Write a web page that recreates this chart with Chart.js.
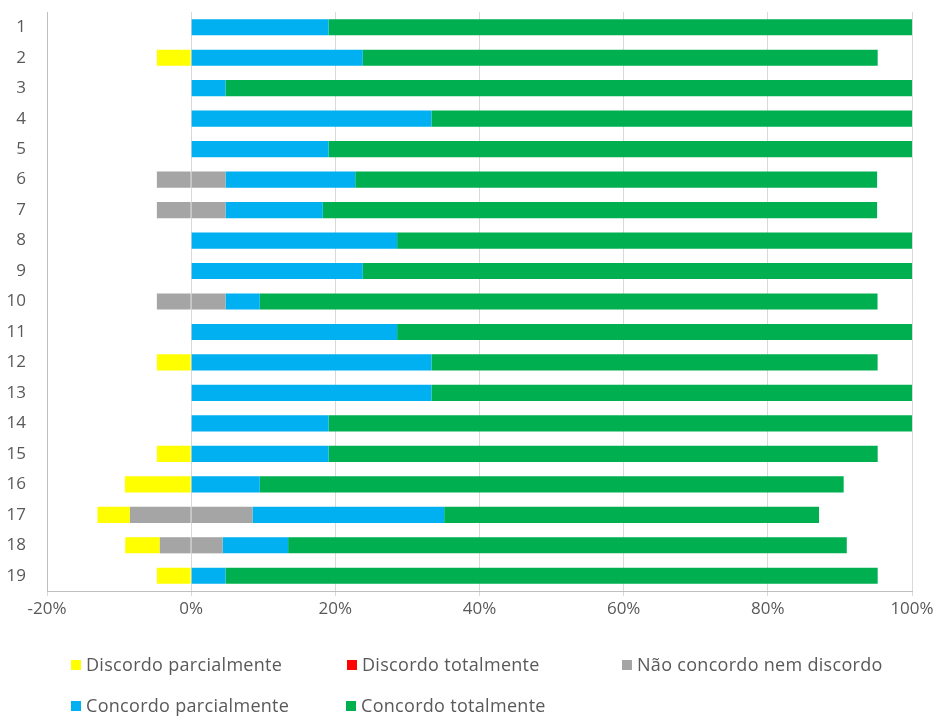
<!DOCTYPE html>
<html>
<head>
<meta charset="utf-8">
<script src="https://cdn.jsdelivr.net/npm/chart.js@4.4.1/dist/chart.umd.min.js"></script>
<style>
  html, body { margin: 0; padding: 0; background: #fff; }
  #wrap { position: relative; width: 940px; height: 716px; }
  #legend { position: absolute; left: 0; top: 0; width: 940px; height: 716px; pointer-events: none;
    font-family: "Open Sans", Lato, sans-serif; font-size: 18px; letter-spacing: 0.3px; color: #595959; }
  .item { position: absolute; white-space: nowrap; line-height: 22px; }
  .box { position: absolute; width: 10px; height: 10px; top: 7px; }
  .txt { position: absolute; top: 0; }
</style>
</head>
<body>
<div id="wrap">
  <canvas id="chart" width="940" height="716"></canvas>
  <div id="legend"></div>
</div>
<script>
// percentages per statement (1..19)
const labels = ["1","2","3","4","5","6","7","8","9","10","11","12","13","14","15","16","17","18","19"];
const discordoParcial = [0, 4.76, 0, 0, 0, 0, 0, 0, 0, 0, 0, 4.76, 0, 0, 4.76, 9.2, 4.5, 4.8, 4.76];
const discordoTotal   = [0, 0, 0, 0, 0, 0, 0, 0, 0, 0, 0, 0, 0, 0, 0, 0, 0, 0, 0];
const neutro          = [0, 0, 0, 0, 0, 9.52, 9.52, 0, 0, 9.52, 0, 0, 0, 0, 0, 0, 17, 8.7, 0];
const concordoParcial = [19.05, 23.81, 4.76, 33.33, 19.05, 18.0, 13.5, 28.57, 23.81, 4.76, 28.57, 33.33, 33.33, 19.05, 19.05, 9.52, 26.6, 9.1, 4.76];
const concordoTotal   = [80.95, 71.43, 95.24, 66.67, 80.95, 72.4, 76.9, 71.43, 76.19, 85.7, 71.43, 61.9, 66.67, 80.95, 76.19, 81.0, 52.0, 77.5, 90.48];
const xTicks = [-20, 0, 20, 40, 60, 80, 100];

const colors = {
  yellow: "#FFFF00", red: "#FF0000", gray: "#A5A5A5", blue: "#00B0F0", green: "#00B050"
};

// neutral bar is split around zero
const neutroNeg = neutro.map(v => -v / 2);
const neutroPos = neutro.map(v => v / 2);

const ds = (label, data, color) => ({
  label, data, backgroundColor: color, borderWidth: 0,
  barPercentage: 0.53, categoryPercentage: 1.0
});

const tickFont = { family: "'Open Sans', Lato, sans-serif", size: 17 };

new Chart(document.getElementById("chart"), {
  type: "bar",
  data: {
    labels,
    datasets: [
      ds("_neutroNeg", neutroNeg, colors.gray),
      ds("Discordo parcialmente", discordoParcial.map(v => -v), colors.yellow),
      ds("Discordo totalmente", discordoTotal.map(v => -v), colors.red),
      ds("Não concordo nem discordo", neutroPos, colors.gray),
      ds("Concordo parcialmente", concordoParcial, colors.blue),
      ds("Concordo totalmente", concordoTotal, colors.green)
    ]
  },
  options: {
    indexAxis: "y",
    responsive: false,
    animation: false,
    layout: { padding: { left: 0, right: 28, top: 12, bottom: 85 } },
    plugins: { legend: { display: false }, tooltip: { enabled: false } },
    scales: {
      x: {
        stacked: true,
        min: -20, max: 100,
        afterBuildTicks: s => { s.ticks = xTicks.map(v => ({ value: v })); },
        afterFit: s => { s.height = 40; },
        grid: { color: "#D9D9D9", lineWidth: 1, tickLength: 5, drawOnChartArea: true },
        border: { color: "#BFBFBF", width: 1 },
        ticks: {
          color: "#595959", padding: 3,
          font: tickFont,
          callback: v => v + "%"
        }
      },
      y: {
        stacked: true,
        afterFit: s => { s.width = 47; s.paddingTop = 0; s.paddingBottom = 0; },
        grid: { display: false },
        border: { color: "#BFBFBF", width: 1 },
        ticks: {
          color: "#595959", padding: 13,
          font: tickFont
        }
      }
    }
  }
});

// legend laid out in the same places as the original
const legendItems = [
  { text: "Discordo parcialmente", color: colors.yellow, x: 71, y: 653 },
  { text: "Discordo totalmente", color: colors.red, x: 347, y: 653 },
  { text: "Não concordo nem discordo", color: colors.gray, x: 622, y: 653 },
  { text: "Concordo parcialmente", color: colors.blue, x: 71, y: 694 },
  { text: "Concordo totalmente", color: colors.green, x: 346, y: 694 }
];
const legend = document.getElementById("legend");
legendItems.forEach(it => {
  const d = document.createElement("div");
  d.className = "item";
  d.style.left = it.x + "px";
  d.style.top = it.y + "px";
  d.innerHTML = '<span class="box" style="background:' + it.color + '"></span>' +
    '<span class="txt" style="left:15px">' + it.text + '</span>';
  legend.appendChild(d);
});
</script>
</body>
</html>
